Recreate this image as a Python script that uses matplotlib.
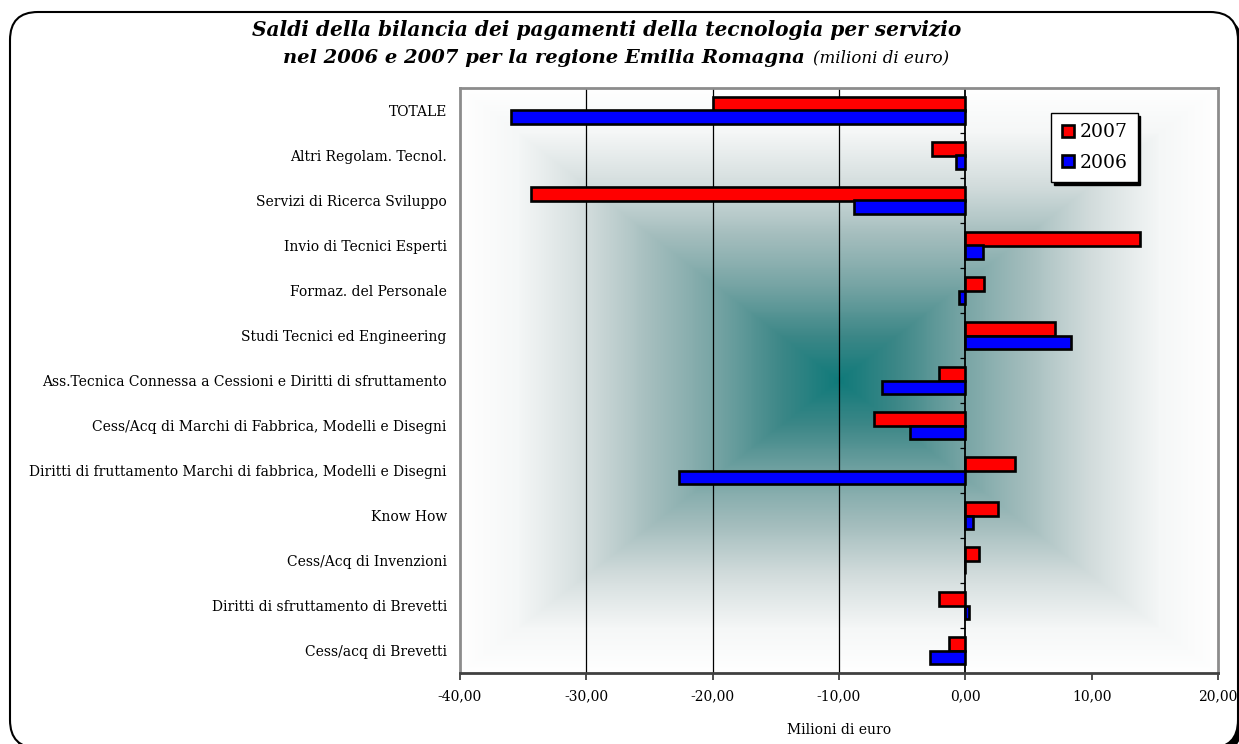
import numpy as np
import matplotlib
matplotlib.use("Agg")
import matplotlib.pyplot as plt
from matplotlib.colors import LinearSegmentedColormap
from matplotlib.patches import FancyBboxPatch

# dati (milioni di euro), dal basso verso l'alto
categorie = [
    "Cess/acq di Brevetti",
    "Diritti di sfruttamento di Brevetti",
    "Cess/Acq di Invenzioni",
    "Know How",
    "Diritti di fruttamento Marchi di fabbrica, Modelli e Disegni",
    "Cess/Acq di Marchi di Fabbrica, Modelli e Disegni",
    "Ass.Tecnica Connessa a Cessioni e Diritti di sfruttamento",
    "Studi Tecnici ed Engineering",
    "Formaz. del Personale",
    "Invio di Tecnici Esperti",
    "Servizi di Ricerca Sviluppo",
    "Altri Regolam. Tecnol.",
    "TOTALE",
]
v2007 = [-1.3, -2.1, 1.1, 2.6, 3.9, -7.2, -2.1, 7.1, 1.5, 13.8, -34.4, -2.6, -20.0]
v2006 = [-2.8, 0.3, 0.0, 0.6, -22.7, -4.4, -6.6, 8.4, -0.5, 1.4, -8.8, -0.7, -36.0]
xticks = [-40, -30, -20, -10, 0, 10, 20]
griglia = [-30, -20, -10]

W, H = 1239, 744
fig = plt.figure(figsize=(W / 100, H / 100), dpi=100)
fig.patch.set_facecolor("white")

# cornice arrotondata con ombra
bg = fig.add_axes([0, 0, 1, 1], zorder=-5)
bg.set_xlim(0, W)
bg.set_ylim(0, H)
bg.axis("off")
bg.add_patch(FancyBboxPatch((14, -8), 1228, 734, boxstyle="round,pad=0,rounding_size=28",
                            fc="black", ec="black", lw=1.5))
bg.add_patch(FancyBboxPatch((10, -4), 1228, 736, boxstyle="round,pad=0,rounding_size=28",
                            fc="white", ec="black", lw=1.5))

ax = fig.add_axes([460 / W, 1 - 673 / H, 758 / W, 585 / H])
n = len(categorie)
y = np.arange(n)
ax.set_xlim(-40, 20)
ax.set_ylim(-0.5, n - 0.5)

# sfondo sfumato dal centro
cmap = LinearSegmentedColormap.from_list(
    "sf", [(0, "#107a7a"), (0.15, "#3c8787"), (0.33, "#78a5a5"), (0.5, "#a5bebe"),
           (0.665, "#d2dcdc"), (0.85, "#f5f7f7"), (1, "#ffffff")])
uu, vv = np.meshgrid(np.linspace(-1, 1, 500), np.linspace(-1, 1, 500))
t = np.maximum(np.abs(uu), np.abs(vv))
ax.imshow(t, cmap=cmap, extent=(-40, 20, -0.5, n - 0.5), aspect="auto",
          origin="lower", zorder=0, vmin=0, vmax=1)

for g in griglia:
    ax.axvline(g, color="black", lw=0.9, zorder=1)
ax.axvline(0, color="black", lw=1.3, zorder=1)
ax.hlines(np.arange(n + 1) - 0.5, -0.45, 0, color="black", lw=0.9, zorder=1)

h = 0.31
ax.barh(y + h / 2, v2007, height=h, color="#ff0000", edgecolor="black", lw=1.9,
        label="2007", zorder=3)
ax.barh(y - h / 2, v2006, height=h, color="#0000ff", edgecolor="black", lw=1.9,
        label="2006", zorder=3)

ax.set_yticks(y)
ax.set_yticklabels(categorie, family="DejaVu Serif", fontsize=10)
ax.tick_params(axis="y", length=0, pad=9.5)
ax.set_xticks(xticks)
ax.set_xticklabels([f"{v:.2f}".replace(".", ",") for v in xticks],
                   family="DejaVu Serif", fontsize=10)
ax.tick_params(axis="x", length=5, width=1.3, color="#404040", pad=7)
ax.set_xlabel("Milioni di euro", family="DejaVu Serif", fontsize=10, labelpad=14)

for s in ["left", "right", "top"]:
    ax.spines[s].set_color("#8c8c8c")
    ax.spines[s].set_linewidth(2)
ax.spines["bottom"].set_color("#404040")
ax.spines["bottom"].set_linewidth(2)

leg = ax.legend(loc="upper right", bbox_to_anchor=(0.894, 0.957), borderaxespad=0,
                frameon=True, fancybox=False, shadow={"color": "black", "alpha": 1},
                prop={"family": "DejaVu Serif", "size": 13.5}, handlelength=0.65,
                handleheight=0.65, handletextpad=0.3, labelspacing=0.65,
                borderpad=0.55)
leg.get_frame().set_edgecolor("black")
leg.get_frame().set_linewidth(1)
leg.get_frame().set_alpha(1)

fig.text(607 / W, 1 - 30 / H, "Saldi della bilancia dei pagamenti della tecnologia per servizio",
         ha="center", va="center", family="DejaVu Serif", weight="bold", style="italic",
         fontsize=14.5)
fig.text(805 / W, 1 - 58 / H, "nel 2006 e 2007 per la regione Emilia Romagna",
         ha="right", va="center", family="DejaVu Serif", weight="bold", style="italic",
         fontsize=14)
fig.text(813 / W, 1 - 58 / H, "(milioni di euro)",
         ha="left", va="center", family="DejaVu Serif", style="italic", fontsize=12)

fig.savefig("out.png", dpi=100)
